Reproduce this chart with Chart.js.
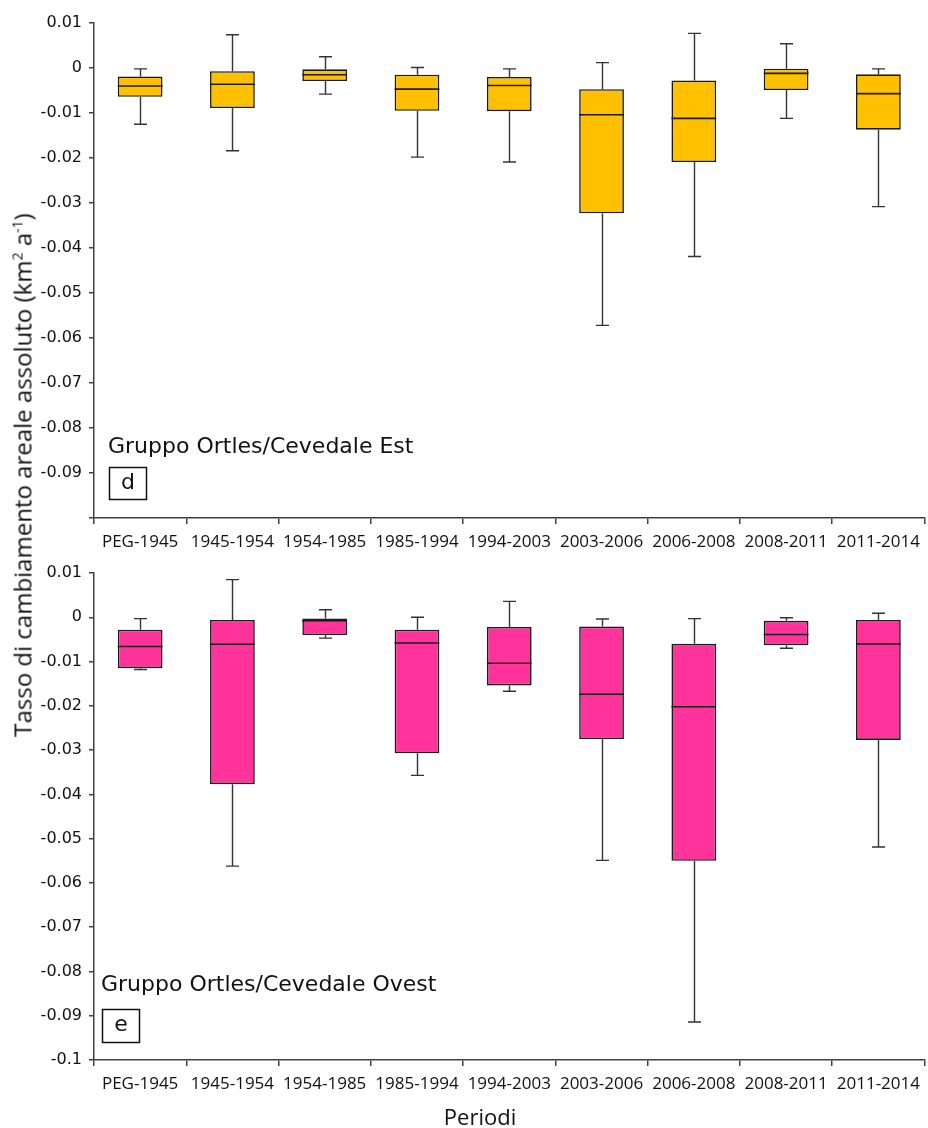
<!DOCTYPE html>
<html>
<head>
<meta charset="utf-8">
<script src="https://cdn.jsdelivr.net/npm/chart.js@4/dist/chart.umd.min.js"></script>
<style>
  body { margin: 0; background: #fff; width: 928px; height: 1128px; position: relative; overflow: hidden; }
  .panel { position: absolute; left: 0; width: 928px; }
  #ytitle {
    position: absolute; left: 22px; top: 475px;
    transform: translate(-50%, -50%) rotate(-90deg);
    font-family: "Open Sans", sans-serif; font-size: 24px; color: #111; white-space: nowrap;
  }
  #ytitle sup { font-size: 14px; vertical-align: 9px; line-height: 0; }
  #xtitle {
    position: absolute; left: 480px; top: 1105px; transform: translate(-50%, 0);
    font-family: "Open Sans", sans-serif; font-size: 22px; line-height: 1; color: #111;
  }
</style>
</head>
<body>
<div class="panel" style="top:0;height:560px"><canvas id="chartEst" width="928" height="560"></canvas></div>
<div class="panel" style="top:550px;height:578px"><canvas id="chartOvest" width="928" height="578"></canvas></div>
<div id="ytitle">Tasso di cambiamento areale assoluto (km<sup>2</sup> a<sup>-1</sup>)</div>
<div id="xtitle">Periodi</div>
<script>
let periods = ['PEG-1945', '1945-1954', '1954-1985', '1985-1994', '1994-2003', '2003-2006', '2006-2008', '2008-2011', '2011-2014'];

// Gruppo Ortles/Cevedale Est (d)
let estMin    = [-0.0125, -0.0184, -0.0058, -0.0198, -0.0209, -0.0572, -0.0419, -0.0112, -0.0308];
let estQ1     = [-0.0064, -0.0089, -0.0029, -0.0095, -0.0096, -0.0323, -0.0209, -0.0049, -0.0137];
let estMedian = [-0.0040, -0.0036, -0.0015, -0.0047, -0.0039, -0.0104, -0.0112, -0.0012, -0.0057];
let estQ3     = [-0.0019, -0.0007, -0.0003, -0.0015, -0.0020, -0.0047, -0.0028, 0.0000, -0.0014];
let estMax    = [-0.0002, 0.0074, 0.0025, 0.0001, -0.0002, 0.0012, 0.0077, 0.0054, -0.0002];

// Gruppo Ortles/Cevedale Ovest (e)
let ovestMin    = [-0.0118, -0.0562, -0.0047, -0.0357, -0.0167, -0.0549, -0.0914, -0.0070, -0.0519];
let ovestQ1     = [-0.0115, -0.0377, -0.0040, -0.0307, -0.0154, -0.0275, -0.0550, -0.0063, -0.0277];
let ovestMedian = [-0.0066, -0.0061, -0.0008, -0.0058, -0.0104, -0.0174, -0.0202, -0.0039, -0.0060];
let ovestQ3     = [-0.0028, -0.0006, -0.0003, -0.0028, -0.0022, -0.0021, -0.0060, -0.0008, -0.0006];
let ovestMax    = [-0.0003, 0.0085, 0.0017, 0.0000, 0.0036, -0.0004, -0.0003, -0.0001, 0.0009];

let yTicks = [0.01, 0, -0.01, -0.02, -0.03, -0.04, -0.05, -0.06, -0.07, -0.08, -0.09, -0.1];

// whiskers + median lines drawn around the floating bars
function boxPlugin(mins, medians, maxs) {
    return {
        id: 'boxExtras',
        beforeDatasetsDraw(chart) {
            let ctx = chart.ctx, x = chart.scales.x, y = chart.scales.y;
            let meta = chart.getDatasetMeta(0);
            ctx.save();
            ctx.strokeStyle = '#333';
            ctx.lineWidth = 1.4;
            mins.forEach(function (mn, i) {
                let px = Math.round(x.getPixelForValue(i)) + 0.5;
                let bar = meta.data[i].getProps(['y', 'base'], true);
                let boxTop = Math.min(bar.y, bar.base), boxBottom = Math.max(bar.y, bar.base);
                let yMax = y.getPixelForValue(maxs[i]), yMin = y.getPixelForValue(mn);
                ctx.beginPath();
                ctx.moveTo(px, yMax); ctx.lineTo(px, boxTop);
                ctx.moveTo(px, boxBottom); ctx.lineTo(px, yMin);
                ctx.moveTo(px - 6.5, yMax); ctx.lineTo(px + 6.5, yMax);
                ctx.moveTo(px - 6.5, yMin); ctx.lineTo(px + 6.5, yMin);
                ctx.stroke();
            });
            ctx.restore();
        },
        afterDatasetsDraw(chart) {
            let ctx = chart.ctx, y = chart.scales.y;
            let meta = chart.getDatasetMeta(0);
            ctx.save();
            ctx.strokeStyle = '#1a1a1a';
            ctx.lineWidth = 1.6;
            medians.forEach(function (md, i) {
                let bar = meta.data[i].getProps(['x', 'width'], true);
                let py = y.getPixelForValue(md);
                ctx.beginPath();
                ctx.moveTo(bar.x - bar.width / 2, py);
                ctx.lineTo(bar.x + bar.width / 2, py);
                ctx.stroke();
            });
            ctx.restore();
        }
    };
}

// group name + panel letter in the lower-left corner
function labelPlugin(name, letter, textUp, boxUp, boxH, dx) {
    return {
        id: 'panelLabel',
        afterDraw(chart) {
            let ctx = chart.ctx, a = chart.chartArea;
            ctx.save();
            ctx.fillStyle = '#111';
            ctx.font = '22px "DejaVu Sans"';
            ctx.textBaseline = 'alphabetic';
            ctx.textAlign = 'left';
            ctx.fillText(name, a.left + dx, a.bottom - textUp);
            let bx = a.left + dx + 1, by = a.bottom - boxUp - boxH;
            ctx.lineWidth = 1.5;
            ctx.strokeStyle = '#111';
            ctx.strokeRect(bx + 0.5, by + 0.5, 37, boxH);
            ctx.textAlign = 'center';
            ctx.textBaseline = 'middle';
            ctx.fillText(letter, bx + 19, by + boxH / 2);
            ctx.restore();
        }
    };
}

function makeChart(id, q1, q3, mins, medians, maxs, color, xHeight, tickPad, showBottomLabel, label) {
    return new Chart(document.getElementById(id), {
        type: 'bar',
        data: {
            labels: periods,
            datasets: [{
                data: q1.map(function (v, i) { return [v, q3[i]]; }),
                backgroundColor: color,
                borderColor: '#1a1a1a',
                borderWidth: 1.6,
                borderSkipped: false,
                barPercentage: 0.485,
                categoryPercentage: 1
            }]
        },
        options: {
            responsive: false,
            animation: false,
            layout: { padding: { top: 23, right: 0, left: 0, bottom: 0 } },
            plugins: { legend: { display: false }, tooltip: { enabled: false } },
            scales: {
                x: {
                    offset: true,
                    grid: { display: true, offset: true, drawOnChartArea: false, tickLength: 6, color: '#404040', lineWidth: 1.5 },
                    border: { color: '#404040', width: 1.5 },
                    ticks: { color: '#111', padding: tickPad, maxRotation: 0, autoSkip: false, font: { family: 'Open Sans', size: 17 } },
                    afterFit: function (s) { s.height = xHeight; }
                },
                y: {
                    min: -0.1,
                    max: 0.01,
                    afterBuildTicks: function (s) { s.ticks = yTicks.map(function (v) { return { value: v }; }); },
                    grid: { display: true, drawOnChartArea: false, tickLength: 5, color: '#404040', lineWidth: 1.5 },
                    border: { color: '#404040', width: 1.5 },
                    ticks: {
                        color: '#111',
                        padding: 7,
                        font: { family: 'DejaVu Sans', size: 16 },
                        callback: function (v) {
                            let r = Math.round(v * 100) / 100;
                            if (r === -0.1 && !showBottomLabel) return '';
                            return r === 0 ? '0' : String(r);
                        }
                    },
                    afterFit: function (s) { s.width = 94; }
                }
            }
        },
        plugins: [boxPlugin(mins, medians, maxs), label]
    });
}

makeChart('chartEst', estQ1, estQ3, estMin, estMedian, estMax, '#FFC000', 42, 8, false,
    labelPlugin('Gruppo Ortles/Cevedale Est', 'd', 65, 19, 32, 14));
makeChart('chartOvest', ovestQ1, ovestQ3, ovestMin, ovestMedian, ovestMax, '#FF3399', 68, 8, true,
    labelPlugin('Gruppo Ortles/Cevedale Ovest', 'e', 69, 18, 33, 7));
</script>
</body>
</html>
